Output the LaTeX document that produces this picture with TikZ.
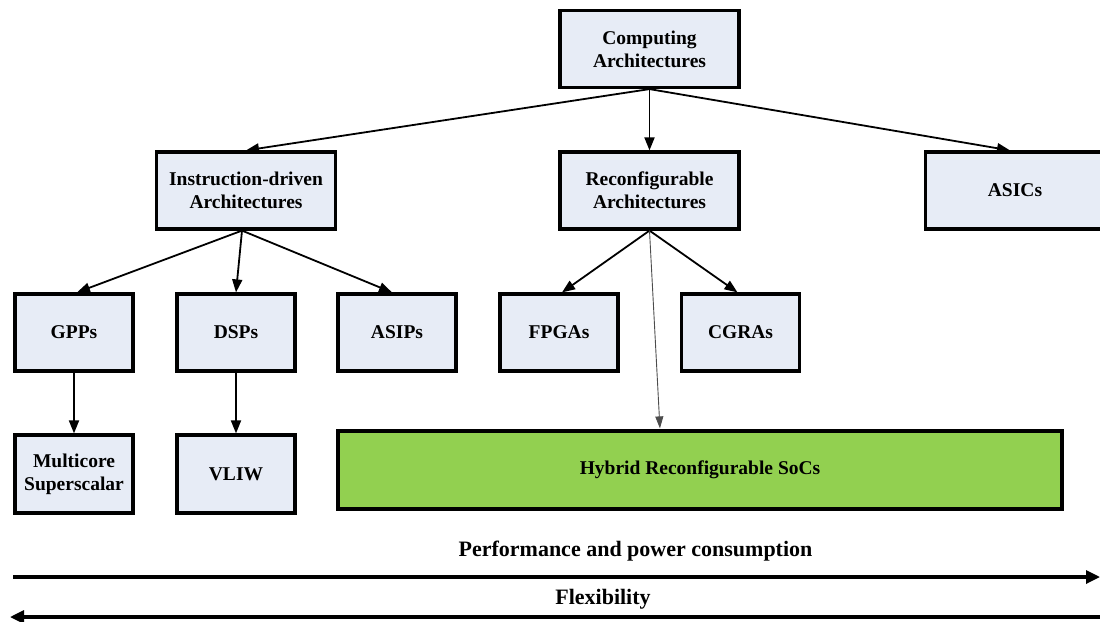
\documentclass[tikz,border=0pt]{standalone}
\usepackage{fontspec}
\setmainfont{Liberation Serif}
\usetikzlibrary{arrows.meta}
\definecolor{boxfill}{HTML}{E7ECF6}
\definecolor{socgreen}{HTML}{92D050}
\begin{document}
\begin{tikzpicture}[x=1pt,y=1pt,
  box/.style={draw=black, line width=3.2pt, fill=boxfill, align=center,
    inner sep=2pt, font=\fontsize{19.5}{23}\selectfont\bfseries},
  wide/.style={box, minimum width=179pt, minimum height=77pt},
  small/.style={box, minimum width=118pt, minimum height=77pt},
  link/.style={draw=black, line width=1.8pt, -{Triangle[length=13pt,width=10pt]}},
  thin/.style={draw=black!70, line width=0.9pt, -{Triangle[length=12pt,width=8pt]}, shorten >=1pt},
  axis/.style={draw=black, line width=3.2pt, -{Triangle[length=14pt,width=13pt]}},
  caption/.style={font=\fontsize{22}{26}\selectfont\bfseries, anchor=base, inner sep=0pt}]
\useasboundingbox (0,0) rectangle (1100,-621);

% top level
\node[wide] (comp) at (649.5,-49) {Computing\\Architectures};

% second level
\node[wide] (instr)  at (246,-190.5)   {Instruction-driven\\Architectures};
\node[wide] (reconf) at (649.5,-190.5) {Reconfigurable\\Architectures};
\node[wide] (asic)   at (1015,-190.5)  {ASICs};

% third level
\node[small] (gpp)  at (74,-332.5)    {GPPs};
\node[small] (dsp)  at (236,-332.5)   {DSPs};
\node[small] (asip) at (397,-332.5)   {ASIPs};
\node[small] (fpga) at (559,-332.5)   {FPGAs};
\node[small] (cgra) at (740.5,-332.5) {CGRAs};

% fourth level
\node[small, minimum height=78pt] (multi) at (74,-474)  {Multicore\\Superscalar};
\node[small, minimum height=78pt] (vliw)  at (236,-474) {VLIW};
\node[box, fill=socgreen, minimum width=724pt, minimum height=78pt] (hybrid) at (700,-470)
  {Hybrid Reconfigurable SoCs};

% connectors
\draw[link] (comp.south) -- (instr.north);
\draw[link] (comp.south) -- (reconf.north);
\draw[link] (comp.south) -- ([xshift=-5pt]asic.north);

\draw[link] ([xshift=-4pt]instr.south) -- ([xshift=3pt]gpp.north);
\draw[link] ([xshift=-4pt]instr.south) -- (dsp.north);
\draw[link] ([xshift=-4pt]instr.south) -- ([xshift=-5pt]asip.north);

\draw[link] (reconf.south) -- ([xshift=3pt]fpga.north);
\draw[link] (reconf.south) -- ([xshift=-3pt]cgra.north);
\draw[thin] (reconf.south) -- ([xshift=-40pt]hybrid.north);

\draw[link] (gpp.south) -- (multi.north);
\draw[link] (dsp.south) -- (vliw.north);

% trend axes
\coordinate (perfL) at (13,-577);
\coordinate (perfR) at (1100,-577);
\coordinate (flexR) at (1100,-617);
\coordinate (flexL) at (10,-617);
\draw[axis] (perfL) -- (perfR);
\draw[axis] (flexR) -- (flexL);
\node[caption] (perf) at (635.5,-556) {Performance and power consumption};
\node[caption] (flex) at (603,-604) {Flexibility};
\end{tikzpicture}
\end{document}
